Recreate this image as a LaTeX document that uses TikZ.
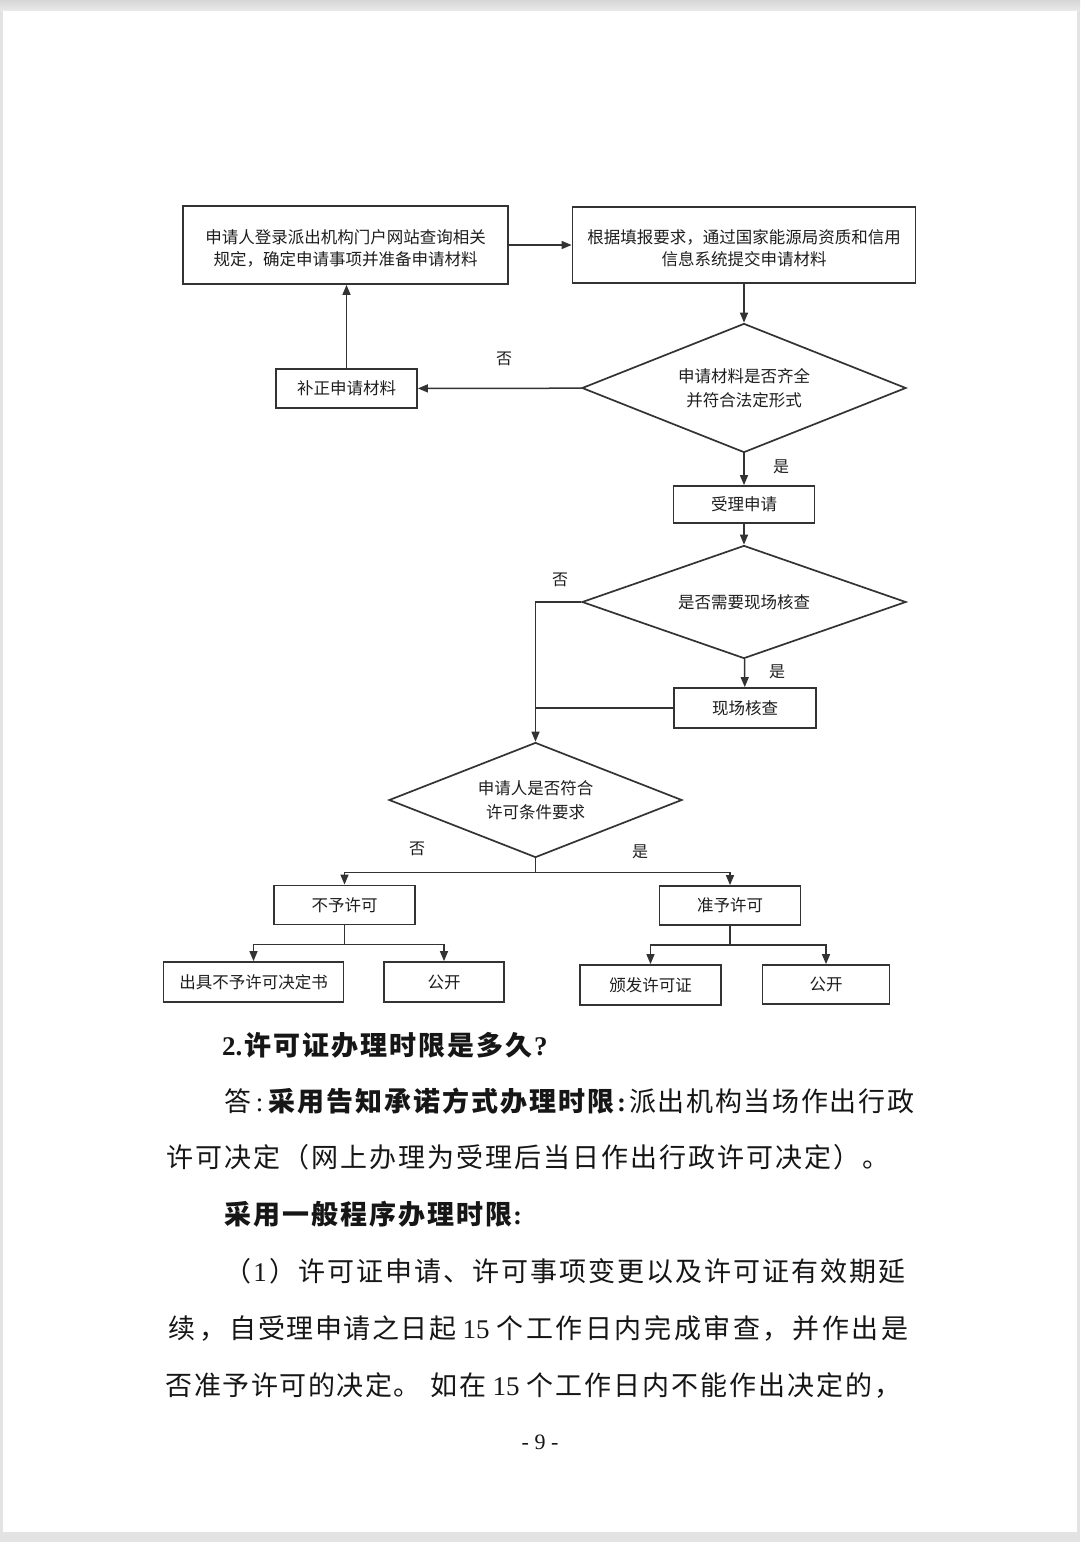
\documentclass[tikz,border=0pt]{standalone}
\usepackage{fontspec}
\setmainfont{Liberation Serif}
\newfontfamily\cjk{Noto Sans CJK SC}
\usetikzlibrary{shapes.geometric,arrows.meta}
\makeatletter
\newcommand\cjkrow[2]{\@tfor\cjk@tok:=#2\do{\makebox[#1][c]{\cjk@tok}}}
\makeatother
\definecolor{lnc}{HTML}{333333}
\definecolor{txt}{HTML}{1E1E1E}
\definecolor{bodytxt}{HTML}{161616}
\definecolor{pagegray}{HTML}{E3E3E3}
\newcommand\bsz{\fontsize{27}{27}\selectfont}
\begin{document}
\begin{tikzpicture}[x=1pt,y=-1pt,
  box/.style={draw=lnc, line width=1.8pt, rectangle, inner sep=0pt, text=txt, align=center,
              font=\cjk\fontsize{16.5}{22}\selectfont},
  dia/.style={draw=lnc, line width=1.7pt, diamond, shape aspect=2.5, inner sep=0pt, text=txt,
              align=center, font=\cjk\fontsize{16.5}{23.5}\selectfont},
  arr/.style={draw=lnc, line width=1.5pt, -{Triangle[length=10pt,width=8pt]}},
  ln/.style={draw=lnc, line width=1.5pt},
  lab/.style={font=\cjk\fontsize{16}{16}\selectfont, text=txt, inner sep=0pt},
  body/.style={anchor=base west, inner sep=0pt, text=bodytxt},
]
\useasboundingbox (0,0) rectangle (1080,1542);
% page
\fill[pagegray] (0,0) rectangle (1080,1542);
\shade[top color={rgb,255:red,214;green,214;blue,214}, bottom color={rgb,255:red,232;green,232;blue,232}] (0,0) rectangle (1080,10);
\fill[white] (3,11) rectangle (1077,1532);

% flowchart nodes
\node[box, minimum width=325pt, minimum height=78pt] (b1) at (345.5,245)
  {\rule{0pt}{19.9pt}申请人登录派出机构门户网站查询相关\\规定，确定申请事项并准备申请材料};
\node[box, minimum width=343pt, minimum height=76pt] (b2) at (744,245)
  {\rule{0pt}{19.9pt}根据填报要求，通过国家能源局资质和信用\\信息系统提交申请材料};
\node[dia, minimum width=324pt, minimum height=129pt] (d1) at (744,388)
  {申请材料是否齐全\\并符合法定形式};
\node[box, minimum width=141pt, minimum height=39pt] (b3) at (346.5,388.5) {补正申请材料};
\node[box, minimum width=141pt, minimum height=37pt] (b4) at (744,504.5) {受理申请};
\node[dia, minimum width=324pt, minimum height=113pt] (d2) at (744,602) {是否需要现场核查};
\node[box, minimum width=142pt, minimum height=40pt] (b5) at (745,708) {现场核查};
\node[dia, minimum width=293pt, minimum height=115pt] (d3) at (535.5,800)
  {申请人是否符合\\许可条件要求};
\node[box, minimum width=141pt, minimum height=39pt] (b6) at (344.5,905) {不予许可};
\node[box, minimum width=141pt, minimum height=39pt] (b7) at (730,905.5) {准予许可};
\node[box, minimum width=180pt, minimum height=40pt] (b8) at (253.5,982) {出具不予许可决定书};
\node[box, minimum width=120pt, minimum height=40pt] (b9) at (444,982) {公开};
\node[box, minimum width=141pt, minimum height=40pt] (b10) at (650.5,985) {颁发许可证};
\node[box, minimum width=127pt, minimum height=39pt] (b11) at (826,984.5) {公开};

% connectors
\draw[arr] (b1) -- (b2);
\draw[arr] (b2) -- (d1);
\draw[arr] (d1) -- (b3);
\draw[arr] (b3.north) -- (b3.north |- b1.south);
\draw[arr] (d1) -- (b4);
\draw[arr] (b4) -- (d2);
\draw[arr] (d2) -- (b5);
\draw[arr] (d2.west) -| (d3.north);
\draw[ln] (b5.west) -- (d3.north |- b5.west);
\draw[ln] (d3.south) -- ++(0,14) coordinate (j1);
\draw[arr] (j1) -| (b6.north);
\draw[arr] (j1) -| (b7.north);
\draw[ln] (b6.south) -- ++(0,19) coordinate (j2);
\draw[arr] (j2) -| (b8.north);
\draw[arr] (j2) -| (b9.north);
\draw[ln] (b7.south) -- ++(0,19) coordinate (j3);
\draw[arr] (j3) -| (b10.north);
\draw[arr] (j3) -| (b11.north);

% labels
\node[lab] (l1) at (504,359) {否};
\node[lab] (l2) at (781,467) {是};
\node[lab] (l3) at (560,580) {否};
\node[lab] (l4) at (777,672) {是};
\node[lab] (l5) at (417,849) {否};
\node[lab] (l6) at (640,852) {是};

% body text
\node[body] (t1a) at (222,1055) {\bfseries\bsz 2.};
\node[body] (t1b) at (243,1055) {\cjk\bfseries\bsz\cjkrow{29pt}{许可证办理时限是多久}};
\node[body] (t1c) at (534,1055) {\bfseries\bsz ?};

\node[body] (t2a) at (223,1111) {\cjk\bsz\cjkrow{29pt}{答}};
\node[body] (t2b) at (252,1111) {\bsz\makebox[15pt]{:}};
\node[body] (t2c) at (267,1111) {\cjk\bfseries\bsz\cjkrow{29pt}{采用告知承诺方式办理时限}};
\node[body] (t2d) at (615,1111) {\bfseries\bsz\makebox[13pt]{:}};
\node[body] (t2e) at (628,1111) {\cjk\bsz\cjkrow{28.7pt}{派出机构当场作出行政}};

\node[body] (t3) at (165,1167) {\cjk\bsz\cjkrow{29pt}{许可决定（网上办理为受理后当日作出行政许可决定）。}};

\node[body] (t4a) at (223,1224) {\cjk\bfseries\bsz\cjkrow{29pt}{采用一般程序办理时限}};
\node[body] (t4b) at (513,1224) {\bfseries\bsz :};

\node[body] (t5a) at (223,1281) {{\cjk\bsz\makebox[29pt]{（}}{\bsz\makebox[16pt]{1}}{\cjk\bsz\makebox[29pt]{）}}};
\node[body] (t5b) at (297,1281) {\cjk\bsz\cjkrow{29pt}{许可证申请、许可事项变更以及许可证有效期延}};

\node[body] (t6a) at (166,1338) {\cjk\bsz\cjkrow{31pt}{续，}};
\node[body] (t6b) at (229,1338) {\cjk\bsz\cjkrow{28.5pt}{自受理申请之日起}};
\node[body] (t6c) at (457,1338) {\bsz\makebox[38pt]{15}};
\node[body] (t6d) at (495,1338) {\cjk\bsz\cjkrow{29.6pt}{个工作日内完成审查，并作出是}};

\node[body] (t7a) at (165,1395) {\cjk\bsz\cjkrow{28.5pt}{否准予许可的决定。}};
\node[body] (t7b) at (430,1395) {\cjk\bsz\cjkrow{28.5pt}{如在}};
\node[body] (t7c) at (487,1395) {\bsz\makebox[38pt]{15}};
\node[body] (t7d) at (525,1395) {\cjk\bsz\cjkrow{29pt}{个工作日内不能作出决定的，}};

\node[text=bodytxt, inner sep=0pt, font=\fontsize{22}{22}\selectfont] (pg) at (540,1442) {- 9 -};
\end{tikzpicture}
\end{document}
